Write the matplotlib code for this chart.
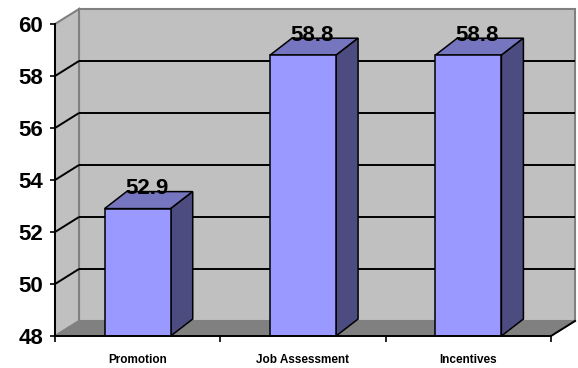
import matplotlib
matplotlib.use("Agg")
import matplotlib.pyplot as plt
from matplotlib.patches import Polygon

# ---------- data -----------------------------------------------------------
categories = ["Promotion", "Job Assessment", "Incentives"]
values = [52.9, 58.8, 58.8]
y_ticks = [48, 50, 52, 54, 56, 58, 60]

# ---------- look -----------------------------------------------------------
FRONT = "#9999FF"
TOP = "#7676C0"
SIDE = "#4C4C80"
WALL = "#C0C0C0"
FLOOR = "#808080"
EDGE_GRAY = "#808080"
FONT = "Liberation Sans"

W, H, DPI = 578, 368, 100
Y0, Y1 = 48, 60
BAR_W = 0.4

fig = plt.figure(figsize=(W / DPI, H / DPI), dpi=DPI)
# front plane of the 3-D box, in pixels
left_px, right_px, top_px, bot_px = 55, 551, 24, 336
ax = fig.add_axes([left_px / W, 1 - bot_px / H,
                   (right_px - left_px) / W, (bot_px - top_px) / H])
ax.set_xlim(-0.5, len(categories) - 0.5)
ax.set_ylim(Y0, Y1)
ax.patch.set_visible(False)

# depth offsets: pixels -> data units
px_x = (right_px - left_px) / len(categories)
px_y = (bot_px - top_px) / (Y1 - Y0)
WDX, WDY = 24 / px_x, 15 / px_y      # walls / floor
BDX, BDY = 22 / px_x, 17 / px_y      # bars

x0, x1 = -0.5, len(categories) - 0.5

def poly(pts, fc, ec, lw, z):
    ax.add_patch(Polygon(pts, closed=True, facecolor=fc, edgecolor=ec,
                         linewidth=lw, zorder=z, clip_on=False))

# back wall, side wall, floor
poly([(x0 + WDX, Y0 + WDY), (x1 + WDX, Y0 + WDY),
      (x1 + WDX, Y1 + WDY), (x0 + WDX, Y1 + WDY)], WALL, EDGE_GRAY, 1.5, 0)
poly([(x0, Y0), (x0 + WDX, Y0 + WDY), (x0 + WDX, Y1 + WDY), (x0, Y1)],
     WALL, EDGE_GRAY, 1.5, 0)

# gridlines on both walls
for v in y_ticks[1:-1]:
    ax.plot([x0 + WDX, x1 + WDX], [v + WDY, v + WDY], color="black",
            lw=1.4, zorder=1, clip_on=False, solid_capstyle="butt")
    ax.plot([x0, x0 + WDX], [v, v + WDY], color="black",
            lw=1.4, zorder=1, clip_on=False, solid_capstyle="butt")

poly([(x0, Y0), (x1, Y0), (x1 + WDX, Y0 + WDY), (x0 + WDX, Y0 + WDY)],
     FLOOR, EDGE_GRAY, 1.0, 1)
ax.plot([x1, x1 + WDX], [Y0, Y0 + WDY], color="black", lw=1.4,
        zorder=1.5, clip_on=False)

# bars: front face through ax.bar, top and side as polygons
xs = list(range(len(categories)))
ax.bar(xs, [v - Y0 for v in values], bottom=Y0, width=BAR_W,
       color=FRONT, edgecolor="black", linewidth=1.1, zorder=3)
for x, v in zip(xs, values):
    l, r = x - BAR_W / 2, x + BAR_W / 2
    poly([(l, v), (r, v), (r + BDX, v + BDY), (l + BDX, v + BDY)],
         TOP, "black", 1.1, 2.5)
    poly([(r, Y0), (r + BDX, Y0 + BDY), (r + BDX, v + BDY), (r, v)],
         SIDE, "black", 1.1, 2.5)
    ax.annotate(f"{v:.1f}", (x, v), xytext=(9, 20), textcoords="offset pixels",
                ha="center", va="center", fontsize=16, fontweight="bold",
                family=FONT, zorder=5, annotation_clip=False)

# axes
for s in ("top", "right"):
    ax.spines[s].set_visible(False)
for s in ("left", "bottom"):
    ax.spines[s].set_linewidth(1.4)
    ax.spines[s].set_zorder(4)

ax.set_yticks(y_ticks)
ax.tick_params(axis="y", direction="out", length=3.6, width=1.2, pad=5,
               labelsize=16)
for t in ax.get_yticklabels():
    t.set_fontweight("bold")
    t.set_family(FONT)

ax.set_xticks([i - 0.5 for i in range(len(categories) + 1)])
ax.set_xticklabels([])
ax.set_xticks(xs, minor=True)
ax.set_xticklabels(categories, minor=True, fontsize=8.5, fontweight="bold",
                   family=FONT)
ax.tick_params(axis="x", which="major", direction="out", length=4.3, width=1.2)
ax.tick_params(axis="x", which="minor", length=0, pad=13)

fig.savefig("out.png", dpi=DPI)
